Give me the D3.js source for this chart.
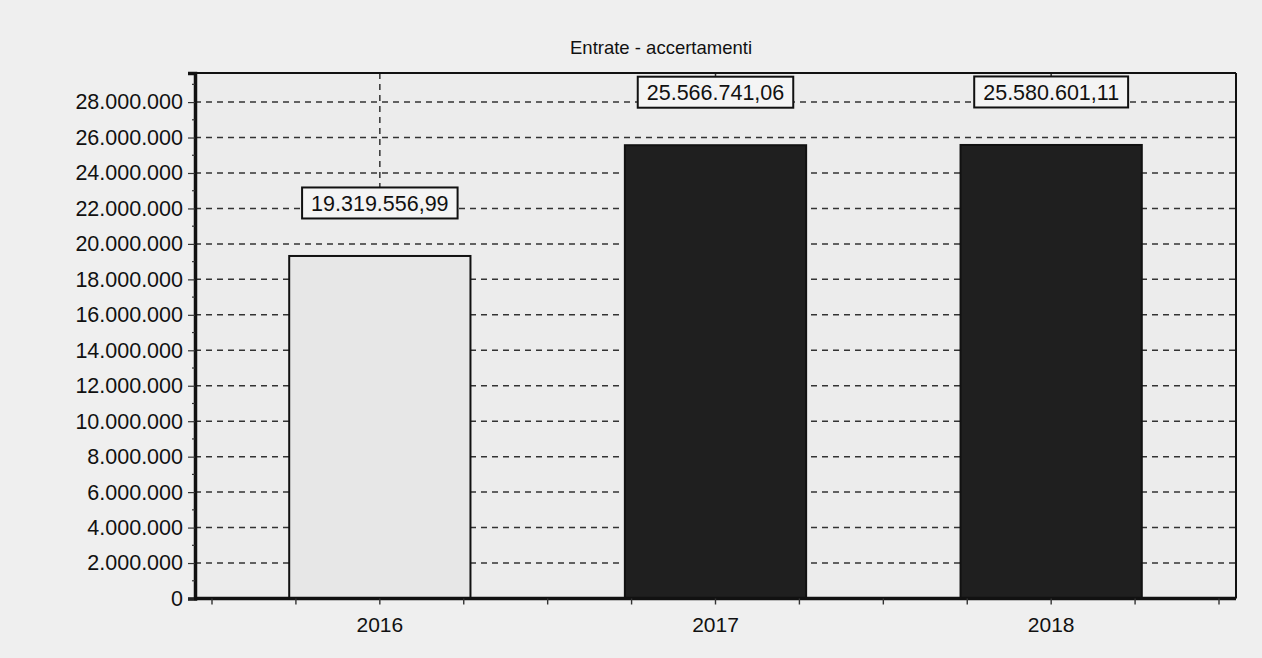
<!DOCTYPE html>
<html>
<head>
<meta charset="utf-8">
<script src="https://cdn.jsdelivr.net/npm/d3@7"></script>
<style>
  body { margin: 0; background: #efefef; }
  svg { display: block; font-family: "Liberation Sans", Arial, sans-serif; }
</style>
</head>
<body>
<div id="chartdiv"></div>
<script>
/* --- Data --- */
let categories = ["2016", "2017", "2018"]
let values = [19319556.99, 25566741.06, 25580601.11]
let barColors = ["#e7e7e7", "#1f1f1f", "#1f1f1f"]
let yTicks = [0, 2000000, 4000000, 6000000, 8000000, 10000000, 12000000, 14000000,
              16000000, 18000000, 20000000, 22000000, 24000000, 26000000, 28000000]
let title = "Entrate - accertamenti"
/* ------------- */

let width = 1262
let height = 658
let plotLeft = 195
let plotRight = 1236
let plotTop = 73
let plotBottom = 598.5
let yMax = 29640000

let itLocale = d3.formatLocale({decimal: ",", thousands: ".", grouping: [3], currency: ["€", ""]})
let fmtTick = itLocale.format(",.0f")
let fmtLabel = itLocale.format(",.2f")

function drawChart(){
   let svg = d3.select('#chartdiv')
      .append('svg')
      .attr("width", width)
      .attr("height", height)

   // plot background
   svg.append("rect")
      .attr("x", plotLeft).attr("y", plotTop)
      .attr("width", plotRight - plotLeft).attr("height", plotBottom - plotTop)
      .attr("fill", "#ececec")

   // scales
   let xscale = d3.scaleBand()
      .domain(categories)
      .range([plotLeft + 17, plotRight - 17])
      .paddingInner(0.46)
      .paddingOuter(0.23)
   let step = xscale.step()
   let x0 = xscale.range()[0]

   let yscale = d3.scaleLinear()
      .domain([0, yMax])
      .range([plotBottom, plotTop])

   // horizontal grid
   svg.append("g")
      .selectAll("line")
      .data(yTicks.filter(d => d > 0))
      .join("line")
      .attr("x1", plotLeft).attr("x2", plotRight)
      .attr("y1", d => yscale(d)).attr("y2", d => yscale(d))
      .attr("stroke", "#333")
      .attr("stroke-width", 1.5)
      .attr("stroke-dasharray", "6,5")

   // label boxes position
   let labelOffset = 53
   let boxH = 31

   // vertical grid (from top down to the value box)
   svg.append("g")
      .selectAll("line")
      .data(categories)
      .join("line")
      .attr("x1", d => xscale(d) + xscale.bandwidth()/2)
      .attr("x2", d => xscale(d) + xscale.bandwidth()/2)
      .attr("y1", plotTop)
      .attr("y2", (d, i) => yscale(values[i]) - labelOffset - boxH/2)
      .attr("stroke", "#333")
      .attr("stroke-width", 1.5)
      .attr("stroke-dasharray", "6,5")

   // bars
   svg.append("g")
      .selectAll("rect")
      .data(values)
      .join("rect")
      .attr("x", (d, i) => xscale(categories[i]))
      .attr("y", d => yscale(d))
      .attr("width", xscale.bandwidth())
      .attr("height", d => plotBottom - yscale(d))
      .attr("fill", (d, i) => barColors[i])
      .attr("stroke", "#111")
      .attr("stroke-width", 2)

   // value labels
   let lab = svg.append("g")
      .selectAll("g")
      .data(values)
      .join("g")
      .attr("transform", (d, i) => `translate(${xscale(categories[i]) + xscale.bandwidth()/2}, ${yscale(d) - labelOffset})`)
   lab.append("text")
      .attr("text-anchor", "middle")
      .attr("dy", "0.36em")
      .attr("font-size", 21.5)
      .attr("fill", "#111")
      .text(d => fmtLabel(d))
   lab.each(function(){
      let g = d3.select(this)
      let w = g.select("text").node().getComputedTextLength() + 18
      g.insert("rect", "text")
         .attr("x", -w/2).attr("y", -boxH/2)
         .attr("width", w).attr("height", boxH)
         .attr("fill", "#f4f4f4")
         .attr("stroke", "#111")
         .attr("stroke-width", 2)
   })

   // frame: top/right thinner, left/bottom heavier
   svg.append("line")
      .attr("x1", plotLeft).attr("x2", plotRight)
      .attr("y1", plotTop).attr("y2", plotTop)
      .attr("stroke", "#111").attr("stroke-width", 2)
   svg.append("line")
      .attr("x1", plotRight).attr("x2", plotRight)
      .attr("y1", plotTop).attr("y2", plotBottom)
      .attr("stroke", "#111").attr("stroke-width", 2)

   // y axis
   let y_axis = d3.axisLeft(yscale)
      .tickValues(yTicks)
      .tickFormat(fmtTick)
      .tickSize(7)
      .tickPadding(5)
   let gy = svg.append("g")
      .attr("transform", `translate(${plotLeft}, 0)`)
      .call(y_axis)
   gy.select(".domain").attr("stroke", "#111").attr("stroke-width", 3.5)
   gy.selectAll(".tick line").attr("stroke", "#333").attr("stroke-width", 1.2)
   gy.selectAll(".tick text")
      .attr("font-size", 21.5)
      .attr("fill", "#111")
      .style("font-family", "'Liberation Sans', Arial, sans-serif")
   // minor y ticks
   svg.append("g")
      .selectAll("line")
      .data(d3.range(1000000, yMax, 2000000))
      .join("line")
      .attr("x1", plotLeft - 3).attr("x2", plotLeft)
      .attr("y1", d => yscale(d)).attr("y2", d => yscale(d))
      .attr("stroke", "#333").attr("stroke-width", 1.2)

   // x axis
   let x_axis = d3.axisBottom(xscale)
      .tickSize(0)
      .tickPadding(19)
   let gx = svg.append("g")
      .attr("transform", `translate(0, ${plotBottom})`)
      .call(x_axis)
   gx.select(".domain").remove()
   gx.selectAll(".tick text")
      .attr("font-size", 21)
      .attr("fill", "#111")
      .style("font-family", "'Liberation Sans', Arial, sans-serif")
   svg.append("line")
      .attr("x1", plotLeft - 1).attr("x2", plotRight)
      .attr("y1", plotBottom).attr("y2", plotBottom)
      .attr("stroke", "#111").attr("stroke-width", 3.5)
   // small x ticks every quarter step
   svg.append("g")
      .selectAll("line")
      .data(d3.range(0, categories.length * 4 + 1))
      .join("line")
      .attr("x1", k => x0 + k * step / 4).attr("x2", k => x0 + k * step / 4)
      .attr("y1", plotBottom).attr("y2", plotBottom + 6)
      .attr("stroke", "#333").attr("stroke-width", 1.4)

   // title
   svg.append("text")
      .attr("x", 661)
      .attr("y", 54)
      .attr("text-anchor", "middle")
      .attr("font-size", 18.5)
      .attr("fill", "#111")
      .text(title)
}
drawChart()
</script>
</body>
</html>
